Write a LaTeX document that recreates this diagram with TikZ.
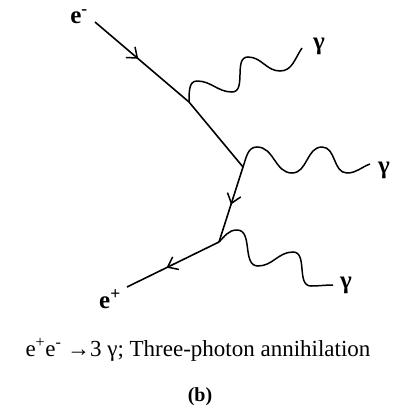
\documentclass[tikz,border=0pt]{standalone}
\usepackage{fontspec}
\setmainfont{Liberation Serif}
\usepackage{tikz}
\usetikzlibrary{arrows.meta,decorations.markings}

\begin{document}
\begin{tikzpicture}[x=1pt,y=1pt, line width=1.6pt,
    fermion/.style={postaction={decorate},
        decoration={markings,mark=at position #1 with {\arrow{Straight Barb[length=9pt,width=14pt,line width=1.5pt]}}}},
    photon/.style={line width=1.5pt},
    lbl/.style={font=\fontsize{25}{30}\selectfont\bfseries, inner sep=0pt}]
    \useasboundingbox (0,0) rectangle (394,-408);

    % Vertices and free ends
    \coordinate (ein) at (95,-22);
    \coordinate (v1) at (189,-102);
    \coordinate (v2) at (243,-167);
    \coordinate (v3) at (219,-242);
    \coordinate (eout) at (127,-287);
    \coordinate (g1) at (302,-48);
    \coordinate (g2) at (370,-164);
    \coordinate (g3) at (333,-285);

    % Electron line
    \draw[fermion=0.46] (ein) -- (v1);
    \draw (v1) -- (v2);
    \draw[fermion=0.5] (v2) -- (v3);
    \draw[fermion=0.57] (v3) -- (eout);

    % Photons
    \draw[photon] (v1) to[out=88,in=180] (197,-81) to[out=0,in=180] (232,-92)
        to[out=0,in=180] (248,-57) to[out=0,in=180] (280,-71) to[out=0,in=235] (g1);
    \draw[photon] (v2) to[out=70,in=180] (257,-147) to[out=0,in=180] (292,-173)
        to[out=0,in=180] (322,-147) to[out=0,in=180] (347,-173) to[out=0,in=200] (g2);
    \draw[photon] (v3) to[out=45,in=180] (237,-230) to[out=0,in=180] (258,-266)
        to[out=0,in=180] (293,-252) to[out=0,in=180] (311,-286) to[out=0,in=180] (g3);

    % Labels
    \node[lbl] (em) at (79,-17) {e\textsuperscript{-}};
    \node[lbl] (ep) at (110,-299) {e\textsuperscript{+}};
    \node[lbl] (ga1) at (319,-46) {γ};
    \node[lbl] (ga2) at (384,-170) {γ};
    \node[lbl] (ga3) at (346,-285) {γ};

    % Caption
    \node[font=\fontsize{23}{28}\selectfont] (cap) at (198,-350)
        {e\textsuperscript{+}e\textsuperscript{-} →3 γ; Three-photon annihilation};
    \node[font=\fontsize{20}{24}\selectfont\bfseries] (sub) at (200,-397) {(b)};
\end{tikzpicture}
\end{document}
